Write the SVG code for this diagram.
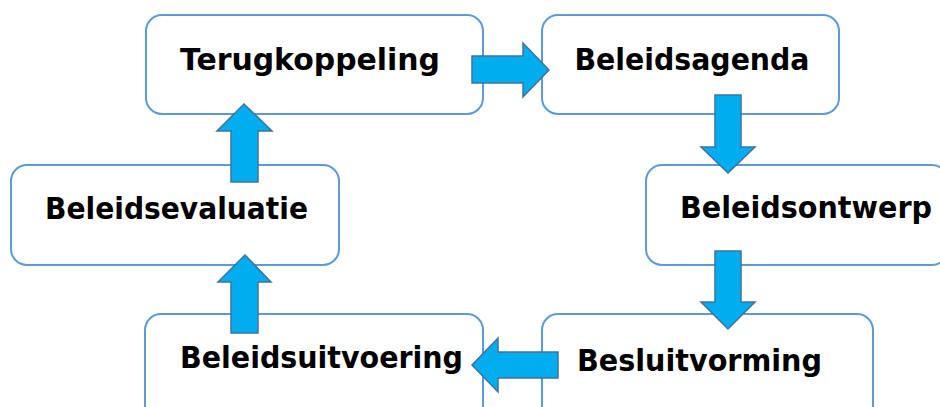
<svg xmlns="http://www.w3.org/2000/svg" width="940" height="407" viewBox="0 0 940 407">
<style>
.box{fill:#fff;stroke:#5B9BD5;stroke-width:2}
.lbl{font-family:"DejaVu Sans","Liberation Sans",sans-serif;font-weight:bold;font-size:31px;fill:#000;text-anchor:middle}
.arr{fill:#00AEEF;stroke:#41719C;stroke-width:1.5;stroke-linejoin:miter}
</style>
<rect width="940" height="407" fill="#fff"/>
<g id="n-terugkoppeling"><rect class="box" x="146" y="15" width="337" height="99" rx="16"/><text class="lbl" x="310" y="70" textLength="260" lengthAdjust="spacingAndGlyphs">Terugkoppeling</text></g>
<g id="n-beleidsagenda"><rect class="box" x="542" y="15" width="297" height="99" rx="16"/><text class="lbl" x="692" y="70" textLength="235" lengthAdjust="spacingAndGlyphs">Beleidsagenda</text></g>
<g id="n-beleidsontwerp"><rect class="box" x="646" y="165" width="302" height="100" rx="16"/><text class="lbl" x="806" y="218" textLength="252" lengthAdjust="spacingAndGlyphs">Beleidsontwerp</text></g>
<g id="n-beleidsevaluatie"><rect class="box" x="11" y="165" width="328" height="100" rx="16"/><text class="lbl" x="176.5" y="219" textLength="263" lengthAdjust="spacingAndGlyphs">Beleidsevaluatie</text></g>
<g id="n-beleidsuitvoering"><rect class="box" x="145" y="314" width="338" height="110" rx="16"/><text class="lbl" x="321.5" y="368" textLength="283" lengthAdjust="spacingAndGlyphs">Beleidsuitvoering</text></g>
<g id="n-besluitvorming"><rect class="box" x="542" y="314" width="331" height="110" rx="16"/><text class="lbl" x="699.5" y="371" textLength="245" lengthAdjust="spacingAndGlyphs">Besluitvorming</text></g>
<g id="connectors">
<polygon class="arr" points="472,56 523,56 523,43 549,70 523,97 523,83 472,83"/>
<polygon class="arr" points="715,95 741,95 741,147 755,147 728,173 701,147 715,147"/>
<polygon class="arr" points="715,251 741,251 741,302 755,302 728,329 701,302 715,302"/>
<polygon class="arr" points="558,352 558,378 498,378 498,392 472,365 498,338 498,352"/>
<polygon class="arr" points="231,333 258,333 258,282 271,282 245,255 218,282 231,282"/>
<polygon class="arr" points="231,182 258,182 258,131 272,131 244,104 217,131 231,131"/>
</g>
</svg>
